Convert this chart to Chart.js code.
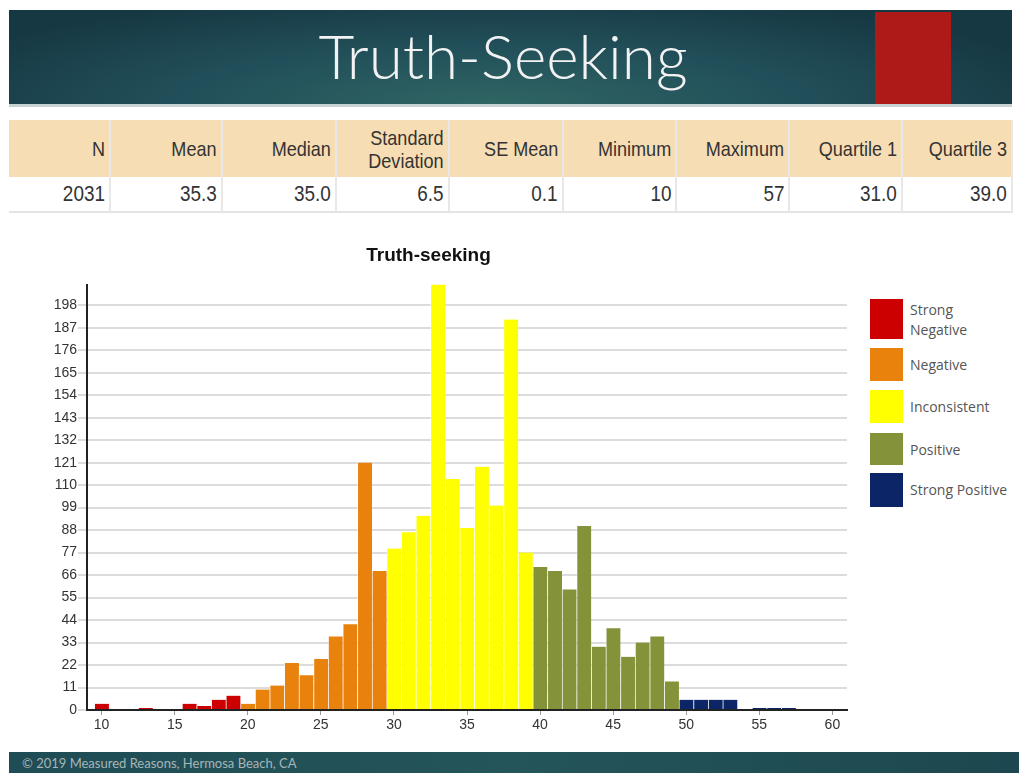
<!DOCTYPE html>
<html lang="en">
<head>
  <meta charset="UTF-8" />
  <title>Truth-Seeking</title>
  <script src="https://cdn.jsdelivr.net/npm/chart.js"></script>
  <style>
    body { margin: 0; width: 1019px; height: 773px; overflow: hidden; background: #fff; position: relative; font-family: "Liberation Sans", Arial, sans-serif; }
    #header {
      position: absolute; left: 9px; top: 10px; width: 1003px; height: 94px;
      background: radial-gradient(ellipse 60% 120% at 48% 100%, #2f6563 0%, #22505a 50%, #163843 100%);
    }
    #header .red { position: absolute; left: 866px; top: 2px; width: 76px; height: 92px; background: #ad1a17; }
    #header h1 {
      position: absolute; left: 0; width: 988px; top: 8px; margin: 0; text-align: center;
      font-family: "Lato", sans-serif; font-weight: 300; font-size: 62px; color: #f2f2f2;
    }
    #rule { position: absolute; left: 9px; top: 104px; width: 1003px; height: 3px; background: #c9d2d3; }
    table { position: absolute; left: 9px; top: 120px; border-collapse: collapse; table-layout: fixed; width: 1003px; }
    th, td { text-align: right; padding: 0 4px 0 0; color: #333; border-right: 2px solid #e8e8e8; white-space: nowrap; }
    th span, td span { display: inline-block; transform: scaleX(0.86); transform-origin: 100% 50%; }
    th { background: #f7ddb4; font-weight: normal; font-size: 21px; height: 57px; line-height: 23px; }
    td { font-size: 22px; height: 34px; border-bottom: 2px solid #e4e4e4; }
    #chartBox { position: absolute; left: 10px; top: 240px; width: 850px; height: 500px; }
    #legend { position: absolute; left: 870px; top: 299px; font-family: "Open Sans", sans-serif; font-size: 14px; color: #555; }
    #legend .item { position: absolute; left: 0; width: 150px; }
    #legend .box { position: absolute; left: 0; top: 0; width: 33px; }
    #legend .lbl { position: absolute; left: 40px; line-height: 20px; }
    #footer { position: absolute; left: 9px; top: 752px; width: 1010px; height: 21px; background: linear-gradient(90deg, #1f4c55, #24555a 50%, #1d4750); }
    #footer span { position: absolute; left: 13px; top: 3px; font-family: "Lato", sans-serif; font-size: 13px; color: #a7b6b7; }
  </style>
</head>
<body>
<div id="header"><div class="red"></div><h1>Truth-Seeking</h1></div>
<div id="rule"></div>
<table id="stats"></table>
<div id="chartBox"><canvas id="histCanvas" width="850" height="500"></canvas></div>
<div id="legend"></div>
<div id="footer"><span>© 2019 Measured Reasons, Hermosa Beach, CA</span></div>

<script>
  // summary table
  const statNames = ['N', 'Mean', 'Median', 'Standard<br>Deviation', 'SE Mean', 'Minimum', 'Maximum', 'Quartile 1', 'Quartile 3'];
  const statValues = ['2031', '35.3', '35.0', '6.5', '0.1', '10', '57', '31.0', '39.0'];
  const colWidths = [101, 112, 114, 113, 114, 113, 113, 113, 110];

  // histogram bands
  const bandLabels = ['Strong Negative', 'Negative', 'Inconsistent', 'Positive', 'Strong Positive'];
  const bandColors = ['#cc0000', '#e8820c', '#ffff00', '#84923a', '#0b2566'];

  const strongNegScores = [10, 13, 16, 17, 18, 19];
  const strongNegCounts = [3, 1, 3, 2, 5, 7];
  const negScores = [20, 21, 22, 23, 24, 25, 26, 27, 28, 29];
  const negCounts = [3, 10, 12, 23, 17, 25, 36, 42, 121, 68];
  const inconsistentScores = [30, 31, 32, 33, 34, 35, 36, 37, 38, 39];
  const inconsistentCounts = [79, 87, 95, 213, 113, 89, 119, 100, 191, 77];
  const positiveScores = [40, 41, 42, 43, 44, 45, 46, 47, 48, 49];
  const positiveCounts = [70, 68, 59, 90, 31, 40, 26, 33, 36, 14];
  const strongPosScores = [50, 51, 52, 53, 55, 56, 57];
  const strongPosCounts = [5, 5, 5, 5, 1, 1, 1];

  const xTicks = [10, 15, 20, 25, 30, 35, 40, 45, 50, 55, 60];
  const yTicks = [0, 11, 22, 33, 44, 55, 66, 77, 88, 99, 110, 121, 132, 143, 154, 165, 176, 187, 198];

  // build table
  const stats = document.getElementById('stats');
  let html = '<colgroup>' + colWidths.map(w => '<col style="width:' + w + 'px">').join('') + '</colgroup>';
  html += '<tr>' + statNames.map(n => '<th><span>' + n + '</span></th>').join('') + '</tr>';
  html += '<tr>' + statValues.map(v => '<td><span>' + v + '</span></td>').join('') + '</tr>';
  stats.innerHTML = html;

  // legend (html, wraps like the original)
  const legendTops = [0, 49, 91, 134, 174];
  const legendHeights = [40, 33, 33, 32, 34];
  const legendLines = [['Strong', 'Negative'], ['Negative'], ['Inconsistent'], ['Positive'], ['Strong Positive']];
  const legend = document.getElementById('legend');
  bandLabels.forEach((label, i) => {
    const item = document.createElement('div');
    item.className = 'item';
    item.style.top = legendTops[i] + 'px';
    const lblTop = legendLines[i].length > 1 ? 1 : 7;
    item.innerHTML = '<div class="box" style="height:' + legendHeights[i] + 'px;background:' + bandColors[i] + '"></div>' +
      '<div class="lbl" style="top:' + lblTop + 'px">' + legendLines[i].join('<br>') + '</div>';
    legend.appendChild(item);
  });

  const bandScores = [strongNegScores, negScores, inconsistentScores, positiveScores, strongPosScores];
  const bandCounts = [strongNegCounts, negCounts, inconsistentCounts, positiveCounts, strongPosCounts];

  const datasets = bandLabels.map((label, i) => ({
    label: label,
    data: bandScores[i].map((s, j) => ({ x: s, y: bandCounts[i][j] })),
    backgroundColor: bandColors[i],
    borderColor: 'rgba(255,255,255,0.45)',
    borderWidth: { left: 1, right: 0, top: 0, bottom: 0 },
    borderSkipped: false,
    grouped: false,
    barPercentage: 1.0,
    categoryPercentage: 1.0,
    clip: 0
  }));

  const ctx = document.getElementById('histCanvas').getContext('2d');
  new Chart(ctx, {
    type: 'bar',
    data: { datasets: datasets },
    options: {
      responsive: false,
      animation: false,
      layout: { padding: { right: 13, bottom: 0 } },
      scales: {
        x: {
          type: 'linear',
          offset: false,
          min: 9,
          max: 61,
          afterBuildTicks: scale => { scale.ticks = xTicks.map(v => ({ value: v })); },
          afterFit: scale => { scale.height = 30; },
          border: { color: '#222', width: 2 },
          grid: { offset: false, drawOnChartArea: false, drawTicks: true, tickLength: 5, color: '#999' },
          ticks: { color: '#333', font: { family: 'Liberation Sans', size: 14 }, padding: 2, maxRotation: 0 }
        },
        y: {
          min: 0,
          max: 208,
          afterBuildTicks: scale => { scale.ticks = yTicks.map(v => ({ value: v })); },
          afterFit: scale => { scale.width = 77; },
          border: { color: '#222', width: 2 },
          grid: { color: '#dcdcdc', lineWidth: 2, tickLength: 9 },
          ticks: { color: '#333', font: { family: 'Liberation Sans', size: 14 }, padding: 1 }
        }
      },
      plugins: {
        legend: { display: false },
        tooltip: { enabled: false },
        title: {
          display: true,
          text: 'Truth-seeking',
          color: '#111',
          font: { family: 'Liberation Sans', size: 19, weight: 'bold', lineHeight: 1.2 },
          padding: { top: 4, bottom: 18 }
        }
      }
    }
  });
</script>
</body>
</html>
